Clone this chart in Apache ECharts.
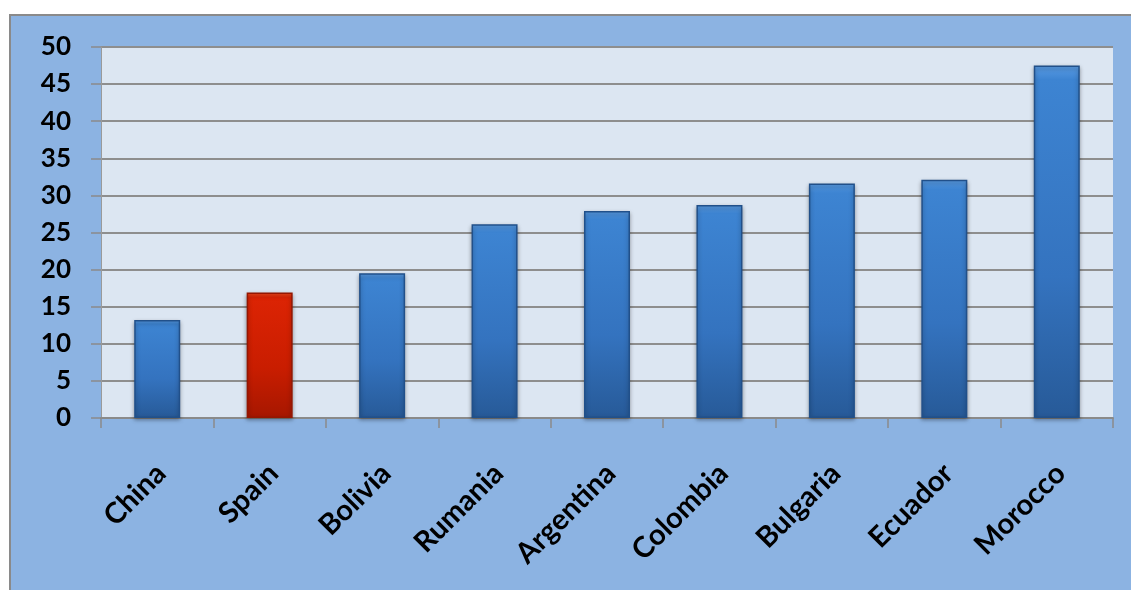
<!DOCTYPE html>
<html>
<head>
<meta charset="utf-8">
<script src="https://cdn.jsdelivr.net/npm/echarts@6/dist/echarts.min.js"></script>
<style>
  html, body { margin: 0; padding: 0; background: #ffffff; }
  #frame { position: absolute; left: 9px; top: 14px; width: 1140px; height: 600px;
           background: #8cb3e2; border-left: 2px solid #8a8a8a; border-top: 2px solid #8a8a8a; box-sizing: border-box; }
  #chart { position: absolute; left: 0; top: 0; width: 1131px; height: 590px; }
</style>
</head>
<body>
<div id="frame"></div>
<div id="chart"></div>
<script>
const categories = ["China", "Spain", "Bolivia", "Rumania", "Argentina", "Colombia", "Bulgaria", "Ecuador", "Morocco"];
const values = [13.2, 16.9, 19.5, 26.1, 27.9, 28.7, 31.6, 32.1, 47.5];
const highlighted = ["Spain"];
const yTicks = { min: 0, max: 50, interval: 5 };

const blueFill = new echarts.graphic.LinearGradient(0, 0, 0, 1, [
  { offset: 0, color: '#5a9ce4' },
  { offset: 0.04, color: '#3d84d2' },
  { offset: 0.6, color: '#3473bf' },
  { offset: 1, color: '#275a98' }
]);
const redFill = new echarts.graphic.LinearGradient(0, 0, 0, 1, [
  { offset: 0, color: '#ee4a1c' },
  { offset: 0.04, color: '#dc2404' },
  { offset: 0.6, color: '#c91d00' },
  { offset: 1, color: '#a61700' }
]);

const seriesData = values.map((v, i) => ({
  value: v,
  itemStyle: highlighted.includes(categories[i])
    ? { color: redFill, borderColor: '#961600', borderWidth: 1.5 }
    : { color: blueFill, borderColor: '#21508a', borderWidth: 1.5 }
}));

const chart = echarts.init(document.getElementById('chart'), null, { renderer: 'canvas' });
const labelFont = { color: '#000000', fontFamily: 'Lato, "Open Sans", sans-serif', fontWeight: 'bold', fontSize: 25 };

chart.setOption({
  animation: false,
  grid: { left: 101, top: 47, right: 18, bottom: 172, show: true, backgroundColor: '#dce6f2', borderWidth: 0 },
  xAxis: {
    type: 'category',
    data: categories,
    axisLine: { show: true, lineStyle: { color: '#8a8a8a', width: 2 } },
    axisTick: { show: true, alignWithLabel: false, length: 10, lineStyle: { color: '#8a8a8a', width: 1.5 } },
    axisLabel: Object.assign({ rotate: 45, margin: 34, align: 'right', verticalAlign: 'top', interval: 0, padding: [0, 9, 0, 0] }, labelFont, { fontSize: 29 }),
    splitLine: { show: false }
  },
  yAxis: {
    type: 'value',
    min: yTicks.min, max: yTicks.max, interval: yTicks.interval,
    axisLine: { show: true, lineStyle: { color: '#9a9a9a', width: 1 } },
    axisTick: { show: true, length: 10, lineStyle: { color: '#8a8a8a', width: 1.5 } },
    axisLabel: Object.assign({ margin: 30 }, labelFont, { fontSize: 26 }),
    splitLine: { show: true, lineStyle: { color: '#8e8e8e', width: 2 } }
  },
  series: [{
    type: 'bar',
    data: seriesData,
    barWidth: 46,
    itemStyle: { shadowBlur: 4, shadowColor: 'rgba(0,0,0,0.35)', shadowOffsetY: 2 }
  }]
});
</script>
</body>
</html>
